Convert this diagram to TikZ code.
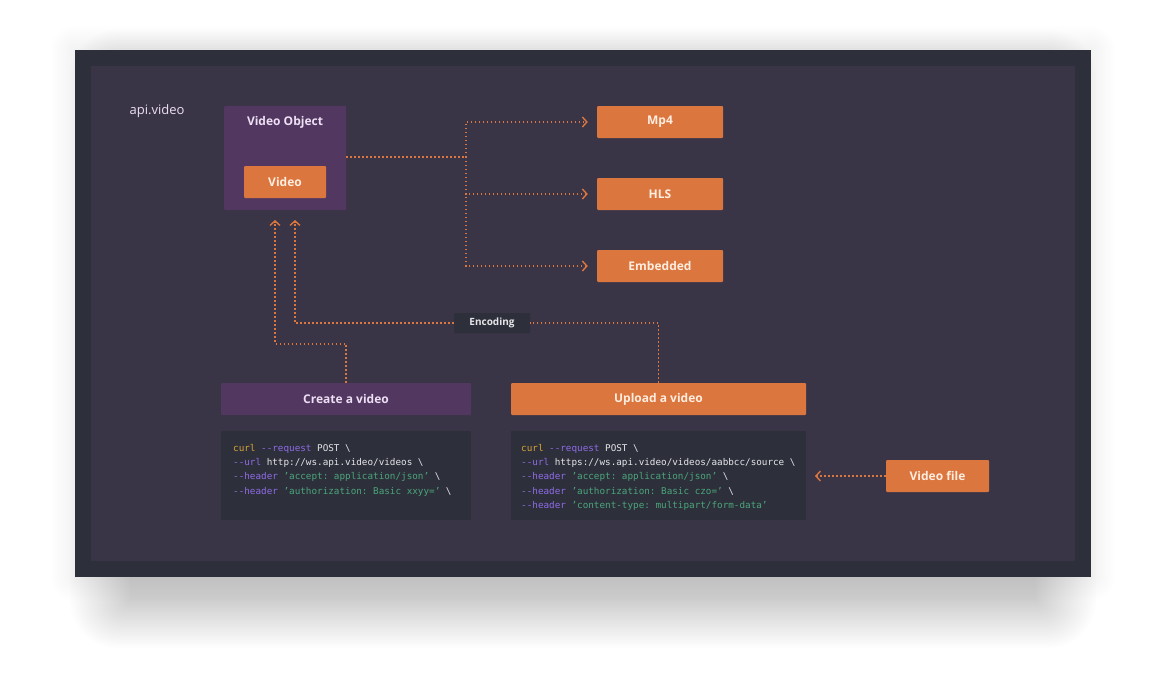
\documentclass[tikz,border=0pt]{standalone}
\usepackage{fontspec}
\setmainfont{Open Sans}
\setmonofont{DejaVu Sans Mono}
\usetikzlibrary{arrows.meta,positioning}

\definecolor{frame}{HTML}{2D2F3A}
\definecolor{panel}{HTML}{393446}
\definecolor{orng}{HTML}{DB763F}
\definecolor{purp}{HTML}{523860}
\definecolor{lav}{HTML}{EEDFF5}
\definecolor{cream}{HTML}{FFEDE0}
\definecolor{cyel}{HTML}{D6A436}
\definecolor{cpur}{HTML}{8F6BE8}
\definecolor{cgrn}{HTML}{4BA67B}
\definecolor{cwht}{HTML}{E6E6EA}

\newcommand{\cy}[1]{{\color{cyel}#1}}
\newcommand{\cp}[1]{{\color{cpur}#1}}
\newcommand{\cg}[1]{{\color{cgrn}#1}}
\newcommand{\bsl}{\char`\\}

\tikzset{
	orangebox/.style={fill=orng, text=cream, rounded corners=1pt, inner sep=0pt,
		minimum height=32pt, font=\fontsize{12}{14}\selectfont\bfseries},
	purplebox/.style={orangebox, fill=purp, text=lav},
	codebox/.style={fill=frame, inner sep=0pt, minimum width=250pt, minimum height=89pt},
	codetext/.style={anchor=north west, inner sep=0pt, align=left, text=cwht,
		font=\fontsize{9.3}{14.3}\ttfamily},
	dotline/.style={orng, line width=1.4pt, dash pattern=on 1.4pt off 2.6pt},
	tip/.style={-{Straight Barb[length=4.5pt,width=10pt]}}
}

\begin{document}
\begin{tikzpicture}[x=1pt,y=-1pt]
	\useasboundingbox (0,0) rectangle (1166,677);
	\fill[white] (0,0) rectangle (1166,677);
	
	% soft shadow
	\foreach \i in {0,...,24}
		\fill[black, opacity=0.006, rounded corners=\i*2pt]
			(130-\i*2.5, 90-\i*2.5) rectangle (1036+\i*2.5, 600+\i*2);
	\foreach \i in {0,...,12}
		\fill[black, opacity=0.003, rounded corners=\i*2pt]
			(75-\i*2, 50-\i*2) rectangle (1091+\i*2, 577+\i*2);
	
	% frame and panel
	\fill[frame] (75,50) rectangle (1091,577);
	\fill[panel] (91,66) rectangle (1075,561);
	
	\node[text=lav, font=\fontsize{13}{15}\selectfont] (brand) at (157,111) {api.video};
	
	% video object
	\node[purplebox, minimum width=122pt, minimum height=104pt] (vobj) at (285,158) {};
	\node[text=lav, font=\fontsize{12}{14}\selectfont\bfseries] (vobjtitle) at (285,122) {Video Object};
	\node[orangebox, minimum width=82pt] (video) at (285,182) {Video};
	
	% outputs
	\node[orangebox, minimum width=126pt] (mp4) at (660,122) {Mp4};
	\node[orangebox, minimum width=126pt] (hls) at (660,194) {HLS};
	\node[orangebox, minimum width=126pt] (embed) at (660,266) {Embedded};
	
	\coordinate (split) at (466,157);
	\draw[dotline] (vobj.east |- split) -- (split);
	\draw[dotline, tip, shorten >=9pt] (split) |- (mp4.west);
	\draw[dotline, tip, shorten >=9pt] (split) |- (hls.west);
	\draw[dotline, tip, shorten >=9pt] (split) |- (embed.west);
	
	% api calls
	\node[purplebox, minimum width=250pt] (create) at (346,399) {Create a video};
	\node[orangebox, minimum width=295pt] (upload) at (658.5,399) {Upload a video};
	\node[fill=frame, text=cwht, rounded corners=1pt, minimum width=76pt, minimum height=20pt,
		inner sep=0pt, font=\fontsize{10}{12}\selectfont\bfseries] (enc) at (492,323) {Encoding};
	
	\coordinate (inleft) at (275,220);
	\coordinate (inright) at (295,220);
	\draw[dotline, tip] (create.north) -- ++(0,-39) -| (inleft);
	\draw[dotline] (upload.north) |- (enc.east);
	\draw[dotline, tip] (enc.west) -| (inright);
	
	% code
	\node[codebox] (code1) at (346,475.5) {};
	\node[codebox, minimum width=295pt] (code2) at (658.5,475.5) {};
	\node[codetext] (code1txt) at (233,444) {%
		\cy{curl} \cp{--request} POST \bsl\\
		\cp{--url} http://ws.api.video/videos \bsl\\
		\cp{--header} \cg{’accept: application/json’} \bsl\\
		\cp{--header} \cg{’authorization: Basic xxyy=’} \bsl};
	\node[codetext] (code2txt) at (521,444) {%
		\cy{curl} \cp{--request} POST \bsl\\
		\cp{--url} https://ws.api.video/videos/aabbcc/source \bsl\\
		\cp{--header} \cg{’accept: application/json’} \bsl\\
		\cp{--header} \cg{’authorization: Basic czo=’} \bsl\\
		\cp{--header} \cg{’content-type: multipart/form-data’}};
	
	\node[orangebox, minimum width=103pt] (vfile) at (937.5,476) {Video file};
	\coordinate (vin) at (815,476);
	\draw[dotline, tip] (vfile.west) -- (vin);
\end{tikzpicture}
\end{document}
